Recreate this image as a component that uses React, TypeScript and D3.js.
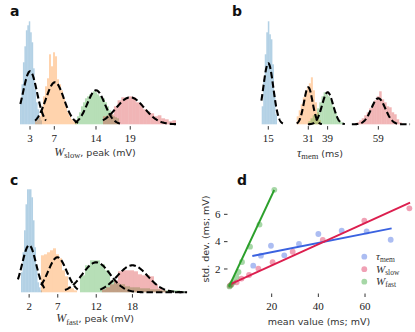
import React from 'react';
import * as d3 from 'd3';

const HIST_COLORS = ['#1f77b4', '#ff7f0e', '#2ca02c', '#d62728'];

// ---------- Panel a : W_slow, peak (mV)
const aTicks = [3.1, 7.0, 13.7, 19.2];
const aTickLabels = ['3', '7', '14', '19'];
const aBinRanges = [[1.49, 5.02], [3.9, 10.65], [10.32, 17.39], [14.82, 26.55]];
const aHistBlue = [24, 40, 62, 78, 94, 99, 103, 92, 82, 56, 35, 22, 15, 7, 4];
const aHistOrange = [3, 5, 8, 16, 28, 38, 46, 70, 58, 72, 68, 45, 40, 34, 26, 18, 12, 8, 5, 3, 2];
const aHistGreen = [4, 8, 12, 18, 22, 26, 28, 30, 31, 33, 32, 30, 28, 27, 26, 22, 18, 14, 10, 8, 7, 6];
const aHistRed = [8, 9, 10, 18, 24, 27, 26, 28, 27, 22, 20, 15, 13, 11, 8, 9, 6, 5, 3, 4];
const aGaussMean = [3.1, 7.1, 13.7, 19.2];
const aGaussSd = [1.12, 1.45, 1.4, 2.25];
const aGaussAmp = [53, 42, 34, 27];
const aGaussRange = [[1.55, 5.67], [3.9, 11.1], [10.3, 17.55], [14.8, 26.55]];

// ---------- Panel b : tau_mem (ms)
const bTicks = [15.05, 31.06, 38.8, 59.1];
const bTickLabels = ['15', '31', '39', '59'];
const bBinRanges = [[12.41, 18.53], [26.42, 36.15], [31.07, 45.08], [50.44, 68.45]];
const bHistBlue = [18, 45, 70, 92, 103, 90, 85, 60, 30, 10];
const bHistOrange = [8, 14, 20, 27, 33, 37, 41, 47, 34, 22, 12, 4];
const bHistGreen = [3, 6, 9, 10, 16, 22, 28, 32, 30, 28, 24, 18, 12, 7, 4, 2];
const bHistRed = [2, 4, 6, 9, 12, 16, 20, 24, 28, 33, 25, 22, 18, 17, 12, 10, 5, 2];
const bGaussMean = [15.05, 31.06, 38.8, 59.1];
const bGaussSd = [2.0, 1.7, 2.2, 2.8];
const bGaussAmp = [61, 37, 32, 26];
const bGaussRange = [[12.3, 20.9], [26.4, 36.5], [30.9, 45.7], [48.5, 71.8]];

// ---------- Panel c : W_fast, peak (mV)
const cTicks = [2.2, 6.55, 12.4, 17.9];
const cTickLabels = ['2', '7', '12', '18'];
const cBinRanges = [[0.965, 4.16], [4.0, 9.48], [9.93, 25.89], [13.27, 23.0]];
const cHistBlue = [20, 40, 62, 88, 103, 103, 103, 95, 72, 45, 22, 10, 5, 2];
const cHistOrange = [37, 38, 40, 42, 44, 38, 34, 22, 16, 6, 4, 2];
const cHistGreen = [17, 27, 32, 32, 28, 22, 12, 9, 8, 6, 5, 5, 4, 4, 3, 3, 2, 2, 2, 2, 1];
const cHistRed = [3, 5, 8, 12, 21, 22, 22, 22, 21, 18, 17, 17, 16, 8, 4, 2];
const cGaussMean = [2.2, 6.5, 12.4, 17.9];
const cGaussSd = [1.06, 1.4, 2.1, 2.3];
const cGaussAmp = [47, 35, 30, 27];
const cGaussRange = [[0.5, 4.6], [4.0, 9.6], [7.65, 26.2], [13.0, 26.2]];

// ---------- Panel d : std vs mean
const dTauMeanX = [12.1, 15.4, 19.7, 25.4, 31.7, 40.0, 50.0, 60.7, 71.0];
const dTauStdY = [2.24, 2.97, 3.7, 3.0, 3.83, 4.56, 4.8, 4.75, 4.14];
const dSlowMeanX = [2.1, 2.9, 5.0, 7.1, 10.3, 14.3, 20.4, 29.0, 41.9, 59.7, 79.0];
const dSlowStdY = [0.78, 0.9, 1.02, 1.3, 1.56, 2.03, 2.5, 3.26, 4.12, 5.53, 6.44];
const dFastMeanX = [1.93, 2.57, 3.56, 4.93, 5.79, 7.29, 10.72, 14.79, 21.13];
const dFastStdY = [0.72, 0.83, 1.05, 1.41, 1.78, 2.51, 3.63, 5.25, 7.79];
const dFitSlope = [0.0338, 0.0774, 0.365];
const dFitIntercept = [2.555, 0.714, 0.08];
const dFitStart = [11.7, 2.14, 1.7];
const dFitEnd = [71.4, 79.3, 21.1];
const dXTicks = [20, 40, 60];
const dYTicks = [2, 4, 6];
const dColors = ['#3a62e0', '#dc1e4e', '#2ca02c'];

const SERIF = 'Liberation Serif, DejaVu Serif, serif';
const SANS = 'DejaVu Sans, sans-serif';

type HistProps = {
  xDomain: [number, number];
  xRange: [number, number];
  base: number;
  ticks: number[];
  tickLabels: string[];
  binRanges: number[][];
  hists: number[][];
  gMean: number[];
  gSd: number[];
  gAmp: number[];
  gRange: number[][];
};

function HistPanel(p: HistProps) {
  const x = d3.scaleLinear().domain(p.xDomain).range(p.xRange);
  const y = d3.scaleLinear().domain([0, 103]).range([p.base, p.base - 103]);
  const line = d3
    .line<[number, number]>()
    .x((d) => x(d[0]))
    .y((d) => y(d[1]));
  return (
    <g>
      {p.hists.map((h, k) => {
        const [lo, hi] = p.binRanges[k];
        const w = (hi - lo) / h.length;
        return (
          <g key={'h' + k}>
            {h.map((v, i) => {
              const x0 = x(lo + i * w);
              const x1 = x(lo + (i + 1) * w);
              return (
                <rect
                  key={i}
                  x={x0}
                  width={x1 - x0}
                  y={y(v)}
                  height={p.base - y(v)}
                  fill={HIST_COLORS[k]}
                  fillOpacity={0.34}
                />
              );
            })}
          </g>
        );
      })}
      {p.gMean.map((m, k) => {
        const [lo, hi] = p.gRange[k];
        const pts: [number, number][] = d3.range(0, 121).map((i) => {
          const xv = lo + ((hi - lo) * i) / 120;
          return [xv, p.gAmp[k] * Math.exp(-((xv - m) ** 2) / (2 * p.gSd[k] ** 2))];
        });
        return (
          <path
            key={'g' + k}
            d={line(pts) || ''}
            fill="none"
            stroke="#000"
            strokeWidth={2.1}
            strokeDasharray="6.5,3"
          />
        );
      })}
      {p.ticks.map((t, i) => (
        <g key={'t' + i}>
          <line x1={x(t)} x2={x(t)} y1={p.base + 1.8} y2={p.base + 5.3} stroke="#333" strokeWidth={1} />
          <text x={x(t)} y={p.base + 17.5} textAnchor="middle" fontFamily={SERIF} fontSize={11} fill="#222">
            {p.tickLabels[i]}
          </text>
        </g>
      ))}
    </g>
  );
}

function ScatterPanel() {
  const x = d3.scaleLinear().domain([0, 80]).range([225, 411.7]);
  const y = d3.scaleLinear().domain([0, 8]).range([296.3, 187]);
  const series = [
    [dTauMeanX, dTauStdY],
    [dSlowMeanX, dSlowStdY],
    [dFastMeanX, dFastStdY],
  ];
  return (
    <g>
      {series.map(([xs, ys], k) => (
        <g key={'s' + k}>
          {xs.map((xv, i) => (
            <circle key={i} cx={x(xv)} cy={y(ys[i])} r={2.9} fill={dColors[k]} fillOpacity={0.42} />
          ))}
        </g>
      ))}
      {dFitSlope.map((s, k) => (
        <line
          key={'f' + k}
          x1={x(dFitStart[k])}
          y1={y(dFitIntercept[k] + s * dFitStart[k])}
          x2={x(dFitEnd[k])}
          y2={y(dFitIntercept[k] + s * dFitEnd[k])}
          stroke={dColors[k]}
          strokeWidth={1.9}
        />
      ))}
      {dYTicks.map((t) => (
        <g key={'y' + t}>
          <line x1={224} x2={227.5} y1={y(t)} y2={y(t)} stroke="#333" strokeWidth={1} />
          <text x={220.5} y={y(t) + 3.8} textAnchor="end" fontFamily={SERIF} fontSize={11} fill="#222">
            {t}
          </text>
        </g>
      ))}
      {dXTicks.map((t) => (
        <g key={'x' + t}>
          <line x1={x(t)} x2={x(t)} y1={293.5} y2={297} stroke="#333" strokeWidth={1} />
          <text x={x(t)} y={309.5} textAnchor="middle" fontFamily={SERIF} fontSize={11} fill="#222">
            {t}
          </text>
        </g>
      ))}
      <text x={319} y={325} textAnchor="middle" fontFamily={SANS} fontSize={9.5} fill="#333">
        mean value (ms; mV)
      </text>
      <text
        transform="translate(209,239) rotate(-90)"
        textAnchor="middle"
        fontFamily={SANS}
        fontSize={9.5}
        fill="#333"
      >
        std. dev. (ms; mV)
      </text>
      {[
        ['τ', 'mem'],
        ['W', 'slow'],
        ['W', 'fast'],
      ].map(([main, sub], k) => (
        <g key={'l' + k}>
          <circle cx={364.3} cy={256.7 + k * 12.5} r={2.9} fill={dColors[k]} fillOpacity={0.42} />
          <text x={376} y={260 + k * 12.5} fontFamily={SERIF} fontSize={11} fill="#333">
            <tspan fontStyle="italic">{main}</tspan>
            <tspan fontSize={7.5} dy={2}>
              {sub}
            </tspan>
          </text>
        </g>
      ))}
    </g>
  );
}

function MixedLabel({ x, y, main, sub, rest }: { x: number; y: number; main: string; sub: string; rest: string }) {
  return (
    <text x={x} y={y} textAnchor="middle" fontFamily={SANS} fontSize={9.5} fill="#333">
      <tspan fontFamily={SERIF} fontStyle="italic" fontSize={12}>
        {main}
      </tspan>
      <tspan fontFamily={SERIF} fontSize={8.5} dy={2.5}>
        {sub}
      </tspan>
      <tspan dy={-2.5}>{rest}</tspan>
    </text>
  );
}

export default function App() {
  return (
    <svg
      width={415}
      height={332}
      style={{ position: 'absolute', left: 0, top: 0, background: '#fff' }}
      xmlns="http://www.w3.org/2000/svg"
    >
      <HistPanel
        xDomain={[0, 26.55]}
        xRange={[10.73, 176.0]}
        base={124.3}
        ticks={aTicks}
        tickLabels={aTickLabels}
        binRanges={aBinRanges}
        hists={[aHistBlue, aHistOrange, aHistGreen, aHistRed]}
        gMean={aGaussMean}
        gSd={aGaussSd}
        gAmp={aGaussAmp}
        gRange={aGaussRange}
      />
      <HistPanel
        xDomain={[0, 72]}
        xRange={[230.7, 410.56]}
        base={124.3}
        ticks={bTicks}
        tickLabels={bTickLabels}
        binRanges={bBinRanges}
        hists={[bHistBlue, bHistOrange, bHistGreen, bHistRed]}
        gMean={bGaussMean}
        gSd={bGaussSd}
        gAmp={bGaussAmp}
        gRange={bGaussRange}
      />
      <HistPanel
        xDomain={[0, 26.2]}
        xRange={[14.65, 187.05]}
        base={292.3}
        ticks={cTicks}
        tickLabels={cTickLabels}
        binRanges={cBinRanges}
        hists={[cHistBlue, cHistOrange, cHistGreen, cHistRed]}
        gMean={cGaussMean}
        gSd={cGaussSd}
        gAmp={cGaussAmp}
        gRange={cGaussRange}
      />
      <ScatterPanel />
      <MixedLabel x={95} y={155.5} main="W" sub="slow" rest=", peak (mV)" />
      <MixedLabel x={320} y={156.5} main="τ" sub="mem" rest=" (ms)" />
      <MixedLabel x={95} y={322} main="W" sub="fast" rest=", peak (mV)" />
      <text x={10} y={16} fontFamily={SANS} fontWeight="bold" fontSize={14} fill="#111">a</text>
      <text x={232} y={16} fontFamily={SANS} fontWeight="bold" fontSize={14} fill="#111">b</text>
      <text x={10} y={185} fontFamily={SANS} fontWeight="bold" fontSize={14} fill="#111">c</text>
      <text x={237} y={185} fontFamily={SANS} fontWeight="bold" fontSize={14} fill="#111">d</text>
    </svg>
  );
}
